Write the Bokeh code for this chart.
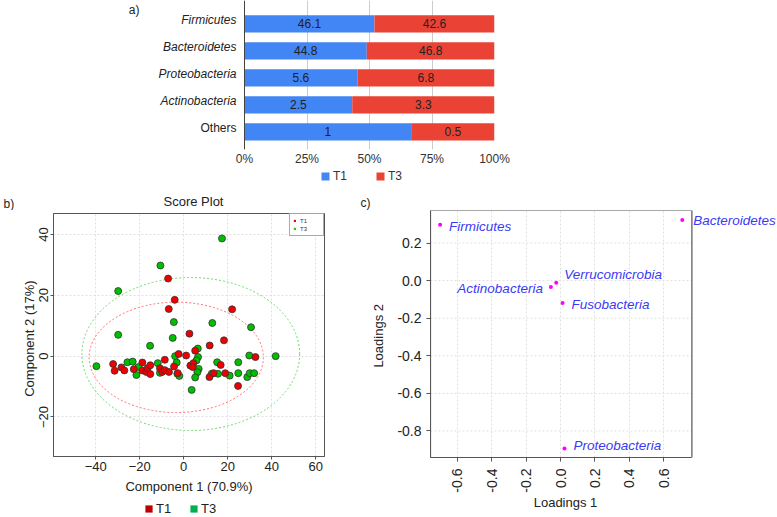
import math
from bokeh.plotting import figure
from bokeh.models import (ColumnDataSource, Range1d, FixedTicker, Legend, LegendItem, Label,
                          LabelSet, PrintfTickFormatter, Span)
from bokeh.layouts import column, row
from bokeh.embed import file_html
from bokeh.resources import INLINE
from bokeh.core.properties import value

FONT = "Liberation Sans"

# ---------------- data: panel a (relative abundance, %)
phyla = ["Firmicutes", "Bacteroidetes", "Proteobacteria", "Actinobacteria", "Others"]
t1_pct = [46.1, 44.8, 5.6, 2.5, 1]
t3_pct = [42.6, 46.8, 6.8, 3.3, 0.5]
pct_ticks = [0, 0.25, 0.5, 0.75, 1]
pct_labels = ["0%", "25%", "50%", "75%", "100%"]

# ---------------- data: panel b (PCA scores)
t1_x = [-7.1, -4.1, -6.8, 22.0, 2.6, 18.3, 11.8, 1.1, -2.3, 5.2, -8.6, -4.4, 3.0, 4.4, 4.1,
        -32.1, -31.4, -28.3, -27.0, -22.7, -18.8, -18.8, -17.0, -16.4, -15.2, -15.2, -10.8,
        -9.8, -8.6, -6.7, -2.7, 11.7, 13.6, 16.8, 18.9, 24.7, 32.6]
t1_y = [25.5, 18.5, 15.5, 15.4, 7.4, 5.2, 3.5, 0.2, 0.7, 1.8, -1.2, -3.4, -3.1, -2.3, -3.6,
        -2.6, -4.8, -3.7, -4.7, -4.3, -2.1, -4.7, -5.2, -4.0, -3.0, -5.9, -4.0,
        -5.2, -4.6, -5.2, -5.6, -6.9, -5.6, -2.9, -5.6, -9.8, -0.3]
t3_x = [17.4, -10.6, -29.8, -29.8, -15.3, -4.5, -5.0, 13.0, 30.6, -39.7, -25.6, -23.2, -21.5,
        -20.6, -11.8, -10.8, -3.9, -3.2, -2.9, -2.0, 6.4, 6.5, 5.8, 6.8, 6.2, 5.2, 3.6, 12.7,
        15.2, 15.6, 20.9, 24.8, 24.8, 28.9, 29.8, 30.0, 32.0, 41.8]
t3_y = [38.7, 29.8, 21.4, 7.0, 3.4, 11.2, 6.0, 10.9, 9.5, -3.3, -2.0, -1.8, -6.2,
        -3.6, -2.3, -5.5, 0.0, -2.1, -5.8, -6.5, 2.5, -0.3, -1.4, -4.2, -5.3, -7.0, -11.1, -5.8,
        -2.0, -5.8, -6.4, -2.0, -5.6, -6.9, 0.2, -5.6, -5.6, 0.0]
ell_group = ["T1", "T3"]
ell_cx = [-3.4, 3.2]
ell_cy = [-0.4, 0.7]
ell_w = [79.2, 99.0]
ell_h = [36.3, 50.3]
b_xticks = [-40, -20, 0, 20, 40, 60]
b_yticks = [-20, 0, 20, 40]

# ---------------- data: panel c (PCA loadings)
taxa = ["Firmicutes", "Bacteroidetes", "Verrucomicrobia", "Actinobacteria",
        "Fusobacteria", "Proteobacteria"]
load1 = [-0.701, 0.709, -0.025, -0.056, 0.012, 0.023]
load2 = [0.297, 0.323, -0.012, -0.034, -0.119, -0.893]
c_xticks = [-0.6, -0.4, -0.2, 0.0, 0.2, 0.4, 0.6]
c_yticks = [-0.8, -0.6, -0.4, -0.2, 0.0, 0.2]
c_xlim = (-0.757, 0.765)
c_ylim = (-0.941, 0.373)

# label placement (screen px)
lab_dx = [9, 11, 8, -8, 9, 9]
lab_dy = [-2, -1, 8, -1, -2, 3]
lab_align = ["left", "left", "left", "right", "left", "left"]

BLUE = "#4285F4"
RED = "#EA4335"
TXT = "#222222"
GRID = "#e0e0e0"
BOX = "#555555"


def fig(**kw):
    return figure(output_backend="svg", toolbar_location=None, frame_align=False, **kw)


def strip(w, h):
    s = fig(width=w, height=h, x_range=Range1d(0, w), y_range=Range1d(0, h),
            x_axis_type=None, y_axis_type=None, min_border_left=0, min_border_right=0,
            min_border_top=0, min_border_bottom=0)
    s.outline_line_color = None
    return s


# ================= panel a
n = len(phyla)
t1_share = [a / (a + b) for a, b in zip(t1_pct, t3_pct)]
src_a = ColumnDataSource(dict(
    cat=phyla, ypos=[n - 1 - i for i in range(n)], t1=t1_share, end=[1.0] * n, zero=[0.0] * n,
    t1_mid=[s / 2 for s in t1_share], t3_mid=[(s + 1) / 2 for s in t1_share],
    t1_txt=[f"{v:g}" for v in t1_pct], t3_txt=[f"{v:g}" for v in t3_pct],
    style=["normal" if c == "Others" else "italic" for c in phyla]))

pa = fig(width=777, height=168, x_range=Range1d(-0.576, 1), y_range=Range1d(-0.651, 4.864),
         min_border_left=100, min_border_right=283, min_border_top=0, min_border_bottom=18)
pa.outline_line_color = None
pa.hbar(y="ypos", left=0, right="t1", height=0.64, fill_color=BLUE, line_color=None, source=src_a)
pa.hbar(y="ypos", left="t1", right="end", height=0.64, fill_color=RED, line_color=None, source=src_a)
pa.ygrid.grid_line_color = None
pa.yaxis.visible = False
pa.xgrid.grid_line_color = "#cccccc"
pa.xaxis.ticker = FixedTicker(ticks=pct_ticks)
pa.xaxis.major_label_overrides = {t: l for t, l in zip(pct_ticks, pct_labels)}
pa.xaxis.axis_line_color = None
pa.xaxis.major_tick_line_color = None
pa.xaxis.minor_tick_line_color = None
pa.xaxis.major_tick_out = 0
pa.xaxis.major_label_standoff = 2
pa.xaxis.major_label_text_font = FONT
pa.xaxis.major_label_text_font_size = "12px"
pa.xaxis.major_label_text_color = "#333333"
pa.add_layout(Span(location=0, dimension="height", line_color="#444444", line_width=1))

pa.add_layout(LabelSet(x="zero", y="ypos", text="cat", source=src_a, x_offset=-8, y_offset=4,
                       text_align="right", text_baseline="middle", text_font_style="style",
                       text_font=value(FONT), text_font_size="12px", text_color=TXT))
for xcol, tcol in (("t1_mid", "t1_txt"), ("t3_mid", "t3_txt")):
    pa.add_layout(LabelSet(x=xcol, y="ypos", text=tcol, source=src_a,
                           text_align="center", text_baseline="middle",
                           text_font=value(FONT), text_font_size="12px", text_color=TXT))
pa.add_layout(Label(x=-0.463, y=4.53, text="a)", text_baseline="middle", text_font=FONT,
                    text_font_size="12px", text_color=TXT))

# ================= strip: legend of panel a + panel letters / score plot title
s1 = strip(777, 42)
ka1 = s1.hbar(y="ypos", left=0, right="t1", height=0.64, fill_color=BLUE, line_color=None, source=src_a)
ka3 = s1.hbar(y="ypos", left="t1", right="end", height=0.64, fill_color=RED, line_color=None, source=src_a)
ka1.visible = False
ka3.visible = False
s1.add_layout(Legend(items=[LegendItem(label="T1", renderers=[ka1], index=0),
                            LegendItem(label="T3", renderers=[ka3], index=0)],
                     orientation="horizontal", location=(320, 27), glyph_width=10, glyph_height=10,
                     label_standoff=3, spacing=22, padding=0, margin=0, border_line_color=None,
                     background_fill_alpha=0, label_text_font=FONT, label_text_font_size="12px",
                     label_text_color="#333333", label_height=10))
for txt, x, y, al in (("b)", 3, 7, "left"), ("Score Plot", 193, 9, "center"), ("c)", 360, 8, "left")):
    s1.add_layout(Label(x=x, y=y, text=txt, text_align=al, text_baseline="middle", text_font=FONT,
                        text_font_size="13px" if txt == "Score Plot" else "12px", text_color=TXT))

# ================= panel b
pb = fig(width=360, height=287, x_range=Range1d(-59.2, 64), y_range=Range1d(-33, 46.9),
         min_border_left=53, min_border_right=36, min_border_top=3, min_border_bottom=41)
pb.outline_line_color = BOX
pb.grid.grid_line_color = GRID
pb.grid.grid_line_dash = "2 2"
pb.xaxis.ticker = FixedTicker(ticks=b_xticks)
pb.yaxis.ticker = FixedTicker(ticks=b_yticks)
for ax in (pb.xaxis[0], pb.yaxis[0]):
    ax.axis_line_color = BOX
    ax.major_tick_line_color = BOX
    ax.major_tick_out = 3
    ax.major_tick_in = 0
    ax.minor_tick_line_color = None
    ax.major_label_text_font = FONT
    ax.major_label_text_font_size = "13px"
    ax.major_label_text_color = TXT
    ax.major_label_standoff = 2
    ax.axis_label_text_font = FONT
    ax.axis_label_text_font_size = "13px"
    ax.axis_label_text_font_style = "normal"
    ax.axis_label_text_color = TXT
pb.yaxis.major_label_orientation = "parallel"
pb.xaxis.axis_label = "Component 1 (70.9%)"
pb.yaxis.axis_label = "Component  2  (17%)"
pb.xaxis.axis_label_standoff = 5
pb.yaxis.axis_label_standoff = 0

src_e = ColumnDataSource(dict(x=ell_cx, y=ell_cy, w=ell_w, h=ell_h,
                              l=[cx - w / 2 for cx, w in zip(ell_cx, ell_w)],
                              r=[cx + w / 2 for cx, w in zip(ell_cx, ell_w)],
                              b=[cy - h / 2 for cy, h in zip(ell_cy, ell_h)],
                              t=[cy + h / 2 for cy, h in zip(ell_cy, ell_h)],
                              c=["#ff6f6f", "#6fd86f"]))
pb.ellipse(x="x", y="y", width="w", height="h", fill_color=None, line_color="c",
           line_dash="2 2", line_width=1, source=src_e)
pb.scatter(t3_x, t3_y, size=7, fill_color="#00BE00", line_color="#333333", line_width=0.8)
pb.scatter(t1_x, t1_y, size=7, fill_color="#EE0000", line_color="#333333", line_width=0.8)


def key(p, color):
    r = p.quad(left="l", right="r", bottom="b", top="t", source=src_e, fill_color=color, line_color=None)
    r.visible = False
    return r


qi1, qi3 = key(pb, "#ff0000"), key(pb, "#00dd00")
pb.add_layout(Legend(items=[LegendItem(label=ell_group[0], renderers=[qi1], index=0),
                            LegendItem(label=ell_group[1], renderers=[qi3], index=1)],
                     location="top_right", margin=0, padding=3, spacing=1, glyph_width=3, glyph_height=3,
                     label_standoff=4, label_height=7, label_text_font=FONT, label_text_font_size="6px",
                     label_text_color="#333333", border_line_color=BOX,
                     background_fill_color="white"))

# ================= panel c
c_px_per_unit = 261.4 / (c_xlim[1] - c_xlim[0])
pc = fig(width=417, height=287, x_range=Range1d(c_xlim[0], c_xlim[0] + 347 / c_px_per_unit),
         y_range=Range1d(*c_ylim),
         min_border_left=70, min_border_right=0, min_border_top=0, min_border_bottom=40)
pc.outline_line_color = None
pc.xgrid.grid_line_color = GRID
pc.xgrid.grid_line_dash = "2 2"
pc.ygrid.grid_line_color = None
pc.xaxis.ticker = FixedTicker(ticks=c_xticks)
pc.yaxis.ticker = FixedTicker(ticks=c_yticks)
pc.xaxis.bounds = c_xlim
for ax in (pc.xaxis[0], pc.yaxis[0]):
    ax.formatter = PrintfTickFormatter(format="%.1f")
    ax.axis_line_color = BOX
    ax.major_tick_line_color = BOX
    ax.major_tick_out = 4
    ax.major_tick_in = 0
    ax.minor_tick_line_color = None
    ax.major_label_text_font = FONT
    ax.major_label_text_font_size = "14px"
    ax.major_label_text_color = TXT
    ax.axis_label_text_font = FONT
    ax.axis_label_text_font_size = "13px"
    ax.axis_label_text_font_style = "normal"
    ax.axis_label_text_color = TXT
pc.xaxis.major_label_orientation = math.pi / 2
pc.xaxis.major_label_standoff = 7
pc.yaxis.major_label_standoff = 5
pc.yaxis.axis_label = "Loadings  2"
pc.yaxis.axis_label_standoff = 8
# horizontal grid lines and box limited to the plotting region
pc.segment(x0=c_xlim[0], x1=c_xlim[1], y0=c_yticks, y1=c_yticks, line_color=GRID,
           line_dash="2 2", line_width=1, level="underlay")
pc.quad(left=[c_xlim[0]], right=[c_xlim[1]], bottom=[c_ylim[0]], top=[c_ylim[1]],
        fill_color=None, line_color=BOX, line_width=1.2)

pc.scatter(load1, load2, size=4, fill_color="#ff00ff", line_color=None)
src_c = ColumnDataSource(dict(x=load1, y=load2, t=taxa, dx=lab_dx, dy=lab_dy, al=lab_align))
pc.add_layout(LabelSet(x="x", y="y", text="t", source=src_c, x_offset="dx", y_offset="dy",
                       text_align="al", text_baseline="middle", text_font=value(FONT),
                       text_font_size="13.5px", text_font_style="italic", text_color="#3a3af5"))

# ================= bottom strip: legend under panel b, x title of panel c
s2 = strip(777, 20)
qb1, qb3 = key(s2, "#C00000"), key(s2, "#00B050")
s2.add_layout(Legend(items=[LegendItem(label=ell_group[0], renderers=[qb1], index=0),
                            LegendItem(label=ell_group[1], renderers=[qb3], index=1)],
                     orientation="horizontal", location=(144, 1), glyph_width=9, glyph_height=9,
                     label_standoff=3, spacing=13, padding=0, margin=0, border_line_color=None,
                     background_fill_alpha=0, label_text_font=FONT, label_text_font_size="13px",
                     label_text_color=TXT, label_height=9))
s2.add_layout(Label(x=565, y=15, text="Loadings 1", text_align="center", text_baseline="middle",
                    text_font=FONT, text_font_size="13px", text_color=TXT))

layout = column(pa, s1, row(pb, pc), s2)
open("out.html", "w").write(file_html(layout, INLINE))
